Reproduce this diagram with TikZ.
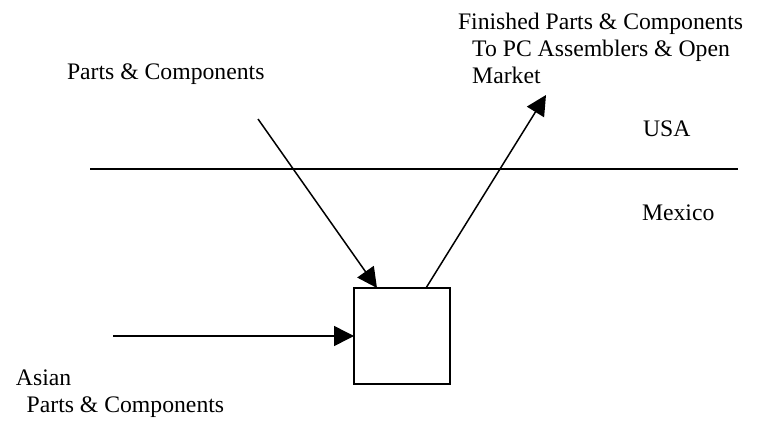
\documentclass[tikz,border=0pt]{standalone}
\usepackage{fontspec}
\setmainfont{Liberation Serif}
\usetikzlibrary{arrows.meta,calc}
\begin{document}
\begin{tikzpicture}[x=0.5pt,y=-0.5pt,
  lbl/.style={inner sep=0pt,outer sep=0pt,align=left,font=\fontsize{11.85pt}{13.5pt}\selectfont},
  arr/.style={line width=0.75pt,-{Triangle[length=10pt,width=10pt]}},
  plant/.style={draw,line width=1pt,minimum width=48pt,minimum height=48pt,inner sep=0pt,outer sep=0pt},
  border/.style={line width=0.7pt}]
\useasboundingbox (0,0) rectangle (763,422);
\node[plant,anchor=north west] (box) at (354,288) {};
\coordinate (s1) at (258,119);
\coordinate (t2) at (546,95);
\coordinate (s3) at (113,336);
\coordinate (l1) at (90,169);
\coordinate (l2) at (738,169);
\draw[border] (l1) -- (l2);
\draw[arr] (s1) -- ([xshift=11.5pt]box.north west);
\draw[arr] ([xshift=36pt]box.north west) -- (t2);
\draw[arr] (s3) -- (box.west);
\node[lbl,anchor=base west] (pc) at (67,80) {Parts \& Components};
\node[lbl,anchor=north west] (fin) at (458,13) {Finished Parts \& Components\\\hspace*{0.6em}To PC Assemblers \& Open\\\hspace*{0.6em}Market};
\node[lbl,anchor=base west] (usa) at (643,137) {USA};
\node[lbl,anchor=base west] (mex) at (642,220) {Mexico};
\node[lbl,anchor=north west] (asian) at (16,370) {Asian\\\hspace*{0.45em}Parts \& Components};
\end{tikzpicture}
\end{document}
